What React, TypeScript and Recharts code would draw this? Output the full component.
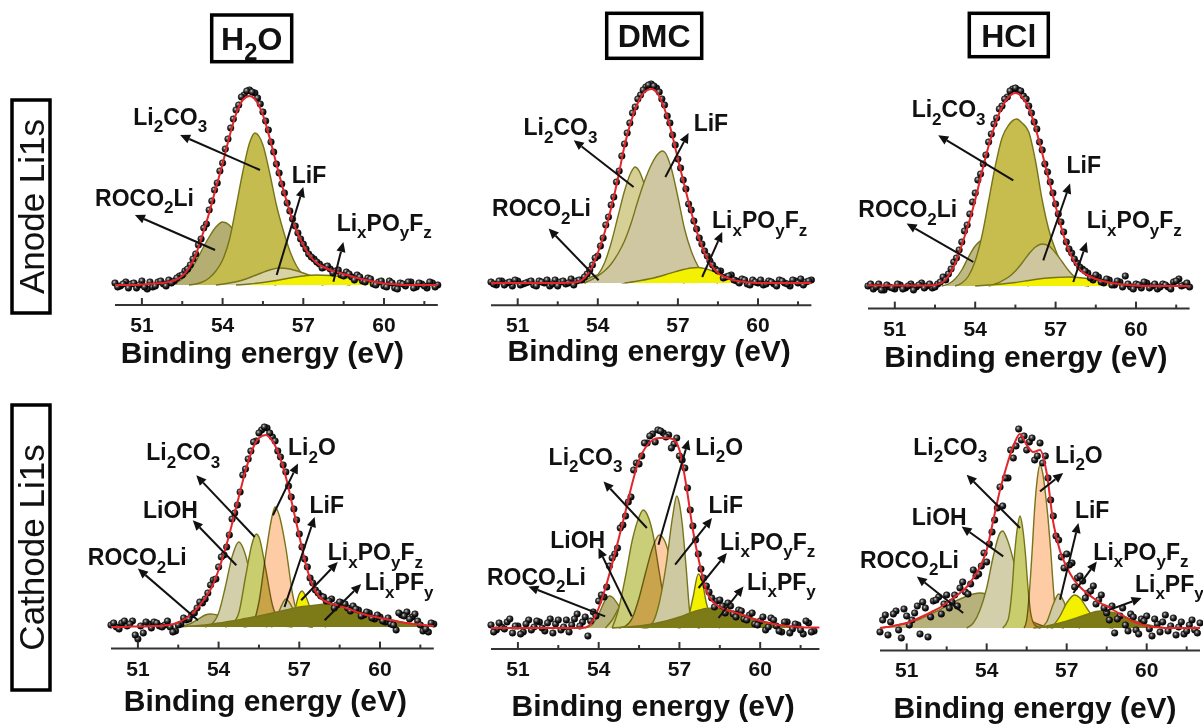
import React from 'react';
import { ComposedChart, Area, Line, Scatter, XAxis, YAxis, ReferenceLine, ReferenceDot } from 'recharts';

type Pt = [number, number];

// ---------------- shared text ----------------
const COLUMN_TITLES = ['H_2O', 'DMC', 'HCl'];
const ROW_TITLES = ['Anode Li1s', 'Cathode Li1s'];
const AXIS_TITLE = 'Binding energy (eV)';
const X_TICKS = [51, 52.5, 54, 55.5, 57, 58.5, 60, 61.5];

// ---------------- Anode / H2O ----------------
const a1Env: Pt[] = [[50,0],[50.25,0],[50.5,0],[50.75,0],[51,0.5],[51.25,1],[51.5,1.5],[51.75,2],[52,3],[52.25,5],[52.5,9],[52.75,17],[53,30],[53.25,50],[53.5,72],[53.75,97],[54,121],[54.25,148],[54.5,171],[54.75,185],[55,189],[55.25,184],[55.5,170],[55.75,147],[56,121],[56.25,96],[56.5,73],[56.75,54],[57,40],[57.25,29],[57.5,22],[57.75,18],[58,15],[58.25,13],[58.5,11],[58.75,9],[59,7],[59.25,5.5],[59.5,4],[59.75,2.5],[60,1.5],[60.25,1],[60.5,0.5],[60.75,0],[61,0],[61.5,0],[62,0]];
const a1Roco: Pt[] = [[52,0],[52.25,2],[52.5,6],[52.75,13],[53,23],[53.25,36],[53.5,48],[53.75,58],[54,63],[54.25,60],[54.5,50],[54.75,37],[55,24],[55.25,13],[55.5,6],[55.75,2],[56,0]];
const a1Li2co3: Pt[] = [[52.75,0],[53,1],[53.25,3],[53.5,7],[53.75,14],[54,25],[54.25,45],[54.5,78],[54.75,113],[55,142],[55.2,152],[55.5,140],[55.75,112],[56,80],[56.25,55],[56.5,34],[56.75,19],[57,10],[57.25,5],[57.5,2],[57.75,0]];
const a1Lif: Pt[] = [[53.75,0],[54.25,2],[54.75,5],[55.25,10],[55.75,15],[56.1,17],[56.5,16],[57,12],[57.5,7],[58,3],[58.5,1],[58.75,0]];
const a1Lipof: Pt[] = [[54.5,0],[55,1],[55.5,2.5],[56,4.5],[56.5,7],[57,9],[57.5,10],[58,9.5],[58.5,8],[59,5.5],[59.5,3],[60,1.5],[60.5,0.5],[61,0]];
const a1Dots: Pt[] = [[50,2],[50.2,-1],[50.4,3],[50.6,1],[50.8,-3],[51,4],[51.2,-4],[51.4,-2],[51.6,3],[51.8,1],[52,5],[52.2,4],[52.4,9],[52.6,14],[52.8,20],[53,31],[53.2,46],[53.4,61],[53.6,84],[53.8,102],[54,122],[54.2,146],[54.4,166],[54.6,180],[54.8,190],[55,195],[55.2,192],[55.4,181],[55.6,164],[55.8,143],[56,121],[56.2,101],[56.4,82],[56.6,66],[56.8,52],[57,41],[57.2,31],[57.4,26],[57.6,21],[57.8,18],[58,16],[58.2,14],[58.4,10],[58.6,13],[58.8,8],[59,10],[59.2,4],[59.4,7],[59.6,1],[59.8,3],[60,-1],[60.2,4],[60.4,-3],[60.6,2],[60.8,-1],[61,3],[61.2,-2],[61.4,1],[61.6,-3],[61.8,2],[62,0]];
const a1DotsB: Pt[] = [[50.1,-2],[50.3,1],[50.5,-3],[50.7,2],[50.9,0],[51.1,-2],[51.3,3],[51.5,-1],[51.7,4],[51.9,-1],[52.1,2],[52.3,7],[52.5,10],[52.7,16],[52.9,26],[53.1,40],[53.3,57],[53.5,75],[53.7,95],[53.9,114],[54.1,136],[54.3,157],[54.5,175],[54.7,188],[54.9,194],[55.1,193],[55.3,187],[55.5,173],[55.7,155],[55.9,133],[56.1,112],[56.3,92],[56.5,74],[56.7,59],[56.9,46],[57.1,36],[57.3,28],[57.5,23],[57.7,17],[57.9,19],[58.1,12],[58.3,15],[58.5,9],[58.7,11],[58.9,5],[59.1,8],[59.3,3],[59.5,6],[59.7,0],[59.9,4],[60.1,-2],[60.3,2],[60.5,-4],[60.7,1],[60.9,3],[61.1,-3],[61.3,2],[61.5,-1],[61.7,3],[61.9,-2]];

// ---------------- Anode / DMC ----------------
const a2Env: Pt[] = [[50,0],[50.5,0],[51,0],[51.5,0],[52,0],[52.5,0],[53,0.5],[53.25,1],[53.5,5],[53.75,14],[54,30],[54.25,50],[54.5,75],[54.75,104],[55,137],[55.25,162],[55.5,180],[55.75,191],[56,194],[56.25,189],[56.5,174],[56.75,152],[57,124],[57.25,97],[57.5,71],[57.75,48],[58,30],[58.25,18],[58.5,10],[58.75,6],[59,3.5],[59.25,2],[59.5,1],[59.75,0.5],[60,0],[60.5,0],[61,0],[61.5,0],[62,0]];
const a2Roco: Pt[] = [[53.25,0],[53.5,2],[53.75,6],[54,8],[54.25,7],[54.5,4],[54.75,1.5],[55,0]];
const a2Li2co3: Pt[] = [[53.5,0],[53.75,3],[54,8],[54.25,20],[54.5,40],[54.75,66],[55,92],[55.25,111],[55.4,116],[55.5,114],[55.75,98],[56,72],[56.25,45],[56.5,23],[56.75,10],[57,3],[57.25,0]];
const a2Lif: Pt[] = [[53.5,0],[53.75,3],[54,7],[54.25,12],[54.5,19],[54.75,29],[55,42],[55.25,60],[55.5,82],[55.75,102],[56,118],[56.25,129],[56.4,132],[56.5,131],[56.75,115],[57,86],[57.25,54],[57.5,32],[57.75,17],[58,8],[58.25,3],[58.5,0]];
const a2Lipof: Pt[] = [[55,0],[55.5,2],[56,4.5],[56.5,8],[57,12],[57.5,15],[57.75,15.5],[58,14.5],[58.5,10],[59,5],[59.5,1.5],[60,0]];
const a2Dots: Pt[] = [[50,1],[50.2,-2],[50.4,2],[50.6,0],[50.8,-3],[51,2],[51.2,-1],[51.4,1],[51.6,-2],[51.8,2],[52,0],[52.2,-3],[52.4,3],[52.6,1],[52.8,-1],[53,4],[53.2,2],[53.4,3],[53.6,9],[53.8,18],[54,27],[54.2,45],[54.4,66],[54.6,86],[54.8,112],[55,139],[55.2,160],[55.4,176],[55.6,188],[55.8,196],[56,199],[56.2,195],[56.4,184],[56.6,167],[56.8,148],[57,124],[57.2,103],[57.4,79],[57.6,62],[57.8,45],[58,32],[58.2,22],[58.4,14],[58.6,12],[58.8,6],[59,8],[59.2,2],[59.4,4],[59.6,-1],[59.8,3],[60,0],[60.2,-2],[60.4,2],[60.6,-1],[60.8,3],[61,0],[61.2,-3],[61.4,2],[61.6,4],[61.8,1],[62,3]];
const a2DotsB: Pt[] = [[50.1,-1],[50.3,2],[50.5,-2],[50.7,1],[50.9,3],[51.1,-2],[51.3,0],[51.5,2],[51.7,-3],[51.9,1],[52.1,3],[52.3,-1],[52.5,-3],[52.7,2],[52.9,0],[53.1,-2],[53.3,3],[53.5,6],[53.7,13],[53.9,25],[54.1,37],[54.3,58],[54.5,78],[54.7,101],[54.9,127],[55.1,150],[55.3,170],[55.5,184],[55.7,193],[55.9,198],[56.1,197],[56.3,191],[56.5,178],[56.7,160],[56.9,138],[57.1,115],[57.3,94],[57.5,73],[57.7,54],[57.9,39],[58.1,27],[58.3,18],[58.5,12],[58.7,5],[58.9,7],[59.1,3],[59.3,0],[59.5,3],[59.7,-2],[59.9,1],[60.1,3],[60.3,-1],[60.5,1],[60.7,-3],[60.9,2],[61.1,-1],[61.3,3],[61.5,0],[61.7,-2],[61.9,2]];

// ---------------- Anode / HCl ----------------
const a3Env: Pt[] = [[50,0.5],[50.5,0.5],[51,0.5],[51.5,0.5],[52,0.5],[52.25,0.5],[52.5,1],[52.75,3],[53,10],[53.25,22],[53.5,41],[53.75,62],[54,86],[54.25,114],[54.5,140],[54.75,162],[55,179],[55.25,189],[55.5,193],[55.75,189],[56,178],[56.25,158],[56.5,133],[56.75,106],[57,80],[57.25,55],[57.5,35],[57.75,22],[58,14],[58.25,10],[58.5,7],[58.75,5],[59,3.5],[59.25,2.5],[59.5,1.5],[59.75,1],[60,0.5],[60.5,0],[61,0],[61.5,0],[62,0]];
const a3Roco: Pt[] = [[52.75,0],[53,2],[53.25,7],[53.5,16],[53.75,29],[54,40],[54.3,46],[54.5,44],[54.75,36],[55,25],[55.25,15],[55.5,7],[55.75,3],[56,0]];
const a3Li2co3: Pt[] = [[53.25,0],[53.5,3],[53.75,10],[54,25],[54.25,50],[54.5,85],[54.75,120],[55,148],[55.25,161],[55.55,167],[55.75,163],[56,154],[56.25,125],[56.5,86],[56.75,56],[57,36],[57.25,21],[57.5,11],[57.75,5],[58,1],[58.25,0]];
const a3Lif: Pt[] = [[54.5,0],[54.75,2],[55,5],[55.25,9],[55.5,15],[55.75,23],[56,32],[56.25,39],[56.5,42],[56.75,40],[57,33],[57.25,24],[57.5,15],[57.75,8],[58,3],[58.25,0]];
const a3Lipof: Pt[] = [[54,0],[54.5,1],[55,2],[55.5,3.5],[56,5.5],[56.5,7.5],[57,8.5],[57.5,9],[58,8],[58.5,6],[59,3.5],[59.5,1.5],[60,0]];
const a3Dots: Pt[] = [[50,0],[50.2,-3],[50.4,2],[50.6,-4],[50.8,-1],[51,-3],[51.2,1],[51.4,-2],[51.6,2],[51.8,-1],[52,3],[52.2,0],[52.4,-2],[52.6,2],[52.8,9],[53,12],[53.2,24],[53.4,36],[53.6,55],[53.8,72],[54,93],[54.2,112],[54.4,131],[54.6,152],[54.8,168],[55,180],[55.2,189],[55.4,197],[55.6,196],[55.8,190],[56,180],[56.2,164],[56.4,144],[56.6,122],[56.8,104],[57,82],[57.2,64],[57.4,44],[57.6,33],[57.8,23],[58,17],[58.2,13],[58.4,6],[58.6,9],[58.8,3],[59,6],[59.2,1],[59.4,4],[59.6,10],[59.8,-1],[60,2],[60.2,-2],[60.4,3],[60.6,0],[60.8,-3],[61,2],[61.2,-1],[61.4,4],[61.6,7],[61.8,1],[62,-1]];
const a3DotsB: Pt[] = [[50.1,2],[50.3,-1],[50.5,-4],[50.7,1],[50.9,-2],[51.1,2],[51.3,-3],[51.5,0],[51.7,-4],[51.9,1],[52.1,-2],[52.3,2],[52.5,-1],[52.7,4],[52.9,6],[53.1,17],[53.3,28],[53.5,44],[53.7,61],[53.9,84],[54.1,106],[54.3,122],[54.5,144],[54.7,162],[54.9,177],[55.1,187],[55.3,195],[55.5,198],[55.7,195],[55.9,187],[56.1,173],[56.3,157],[56.5,136],[56.7,114],[56.9,93],[57.1,72],[57.3,54],[57.5,37],[57.7,27],[57.9,19],[58.1,15],[58.3,8],[58.5,11],[58.7,4],[58.9,7],[59.1,1],[59.3,5],[59.5,-1],[59.7,2],[59.9,-3],[60.1,1],[60.3,4],[60.5,-2],[60.7,2],[60.9,-1],[61.1,1],[61.3,-3],[61.5,5],[61.7,0],[61.9,3]];

// ---------------- Cathode / H2O ----------------
const c1Env: Pt[] = [[50,0],[50.25,0],[50.5,0],[50.75,0.5],[51,0.5],[51.25,0.5],[51.5,1],[51.75,1],[52,1.5],[52.25,2.5],[52.5,4.5],[52.75,8],[53,13],[53.25,20],[53.5,29],[53.75,40],[54,57],[54.25,78],[54.5,103],[54.75,130],[55,156],[55.25,177],[55.5,189],[55.75,192],[56,186],[56.25,172],[56.5,150],[56.75,121],[57,91],[57.25,62],[57.5,41],[57.75,30],[58,25],[58.25,23],[58.5,21],[58.75,19],[59,16.5],[59.25,14],[59.5,12],[59.75,10.5],[60,9],[60.25,7.5],[60.5,6.5],[60.75,5],[61,4],[61.25,3],[61.5,2.5],[61.75,1.5],[62,1]];
const c1Roco: Pt[] = [[52.5,0],[52.75,1.5],[53,4],[53.25,8],[53.5,12],[53.7,13],[54,11.5],[54.25,8],[54.5,4.5],[54.75,2],[55,0]];
const c1Lioh: Pt[] = [[53.5,0],[53.75,3],[54,14],[54.25,40],[54.5,70],[54.75,85],[55,72],[55.25,42],[55.5,16],[55.75,4],[56,0]];
const c1Li2co3: Pt[] = [[54.25,0],[54.5,3],[54.75,14],[55,50],[55.25,84],[55.4,93],[55.5,90],[55.75,58],[56,22],[56.25,6],[56.5,1],[56.75,0]];
const c1Li2o: Pt[] = [[55,0],[55.25,3],[55.5,25],[55.75,72],[56,112],[56.1,120],[56.25,112],[56.5,79],[56.75,33],[57,8],[57.25,1],[57.5,0]];
const c1Lif: Pt[] = [[55.75,0],[56,4],[56.25,16],[56.5,28],[56.75,19],[57,6],[57.25,1],[57.5,0]];
const c1Lipof: Pt[] = [[56.5,0],[56.75,8],[57,33],[57.1,36],[57.25,30],[57.5,12],[57.75,3],[58,0]];
const c1Lipf: Pt[] = [[52.5,0],[53,1],[53.5,2],[54,4],[54.5,6],[55,8.5],[55.5,11],[56,14],[56.5,17],[57,20],[57.5,21.5],[58,23],[58.5,21],[59,16],[59.5,12],[60,9],[60.5,6.5],[61,4],[61.5,2.5],[62,1]];
const c1Dots: Pt[] = [[50,2],[50.2,0],[50.4,4],[50.6,1],[50.8,6],[51,-12],[51.2,-6],[51.4,3],[51.6,5],[51.8,1],[52,2],[52.2,0],[52.4,-4],[52.6,3],[52.8,7],[53,12],[53.2,19],[53.4,24],[53.6,34],[53.8,47],[54,60],[54.2,72],[54.4,92],[54.6,114],[54.8,135],[55,158],[55.2,176],[55.4,186],[55.6,197],[55.8,199],[56,190],[56.2,176],[56.4,162],[56.6,141],[56.8,118],[57,93],[57.2,68],[57.4,49],[57.6,37],[57.8,31],[58,26],[58.2,28],[58.4,22],[58.6,24],[58.8,19],[59,21],[59.2,17],[59.4,12],[59.6,14],[59.8,8],[60,10],[60.2,5],[60.4,3],[60.6,-3],[60.8,12],[61,15],[61.2,10],[61.4,6],[61.6,-4],[61.8,-5],[62,3]];
const c1DotsB: Pt[] = [[50.1,4],[50.3,-2],[50.5,6],[50.7,3],[50.9,-8],[51.1,1],[51.3,5],[51.5,-1],[51.7,4],[51.9,0],[52.1,6],[52.3,-5],[52.5,2],[52.7,9],[52.9,8],[53.1,14],[53.3,25],[53.5,28],[53.7,42],[53.9,48],[54.1,70],[54.3,80],[54.5,108],[54.7,122],[54.9,152],[55.1,168],[55.3,185],[55.5,194],[55.7,200],[55.9,194],[56.1,186],[56.3,170],[56.5,155],[56.7,130],[56.9,107],[57.1,80],[57.3,60],[57.5,44],[57.7,34],[57.9,30],[58.1,26],[58.3,19],[58.5,25],[58.7,23],[58.9,16],[59.1,18],[59.3,11],[59.5,15],[59.7,9],[59.9,12],[60.1,6],[60.3,9],[60.5,2],[60.7,14],[60.9,11],[61.1,8],[61.3,13],[61.5,2],[61.7,-2],[61.9,4]];

// ---------------- Cathode / DMC ----------------
const c2Env: Pt[] = [[50,0],[50.5,0],[51,0],[51.5,0],[52,0],[52.5,0],[53,0],[53.25,0],[53.5,0.5],[53.75,6],[54,20],[54.25,40],[54.5,64],[54.75,90],[55,117],[55.25,145],[55.5,168],[55.75,181],[56,188],[56.25,190],[56.5,190],[56.75,189],[57,178],[57.25,143],[57.5,98],[57.75,64],[58,37],[58.25,26],[58.5,21],[58.75,18],[59,16],[59.25,14],[59.5,11.5],[59.75,9],[60,7],[60.25,5.5],[60.5,4],[60.75,3],[61,2],[61.25,1.5],[61.5,1],[61.75,0.5],[62,0.5],[62.2,0.5]];
const c2Roco: Pt[] = [[53.5,0],[53.75,3],[54,14],[54.25,28],[54.4,32],[54.5,31],[54.75,22],[55,11],[55.25,4],[55.5,1],[55.75,0]];
const c2Lioh: Pt[] = [[54.25,0],[54.5,8],[54.75,20],[54.9,25],[55.1,22],[55.35,12],[55.6,4],[55.85,0]];
const c2Li2co3: Pt[] = [[54.5,0],[54.75,20],[55,52],[55.25,88],[55.5,111],[55.65,118],[55.75,116],[56,96],[56.25,56],[56.5,18],[56.75,3],[57,0]];
const c2Li2o: Pt[] = [[54.75,0],[55,2],[55.25,10],[55.5,30],[55.75,56],[56,80],[56.25,93],[56.5,84],[56.75,58],[57,30],[57.25,10],[57.5,2],[57.75,0]];
const c2Lif: Pt[] = [[55.75,0],[56,5],[56.25,25],[56.5,62],[56.75,112],[56.9,132],[57,124],[57.1,105],[57.25,60],[57.4,12],[57.5,4],[57.75,0]];
const c2Lipof: Pt[] = [[57,0],[57.25,4],[57.5,30],[57.7,54],[57.85,46],[58,25],[58.25,6],[58.5,0]];
const c2Lipf: Pt[] = [[54.5,0],[55,1],[55.5,2],[56,4],[56.5,7],[57,11],[57.5,16],[58,19.5],[58.4,20],[58.75,19],[59,16.5],[59.5,12],[60,7.5],[60.5,4],[61,1.5],[61.5,0]];
const c2Dots: Pt[] = [[50,3],[50.2,-2],[50.4,1],[50.6,6],[50.8,-5],[51,2],[51.2,-4],[51.4,8],[51.6,1],[51.8,6],[52,-3],[52.2,9],[52.4,4],[52.6,-2],[52.8,8],[53,3],[53.2,14],[53.4,6],[53.6,-8],[53.8,16],[54,27],[54.2,31],[54.4,62],[54.6,74],[54.8,100],[55,112],[55.2,131],[55.4,165],[55.6,172],[55.8,185],[56,194],[56.2,198],[56.4,195],[56.6,193],[56.8,184],[57,172],[57.2,160],[57.4,118],[57.6,88],[57.8,59],[58,42],[58.2,30],[58.4,27],[58.6,22],[58.8,25],[59,14],[59.2,18],[59.4,9],[59.6,13],[59.8,4],[60,7],[60.2,-2],[60.4,10],[60.6,2],[60.8,-4],[61,6],[61.2,-1],[61.4,3],[61.6,-6],[61.8,5],[62,-3]];
const c2DotsB: Pt[] = [[50.1,-4],[50.3,5],[50.5,-1],[50.7,9],[50.9,2],[51.1,-6],[51.3,4],[51.5,-2],[51.7,7],[51.9,0],[52.1,5],[52.3,-5],[52.5,8],[52.7,1],[52.9,-4],[53.1,9],[53.3,2],[53.5,11],[53.7,7],[53.9,12],[54.1,33],[54.3,41],[54.5,70],[54.7,80],[54.9,103],[55.1,126],[55.3,158],[55.5,164],[55.7,185],[55.9,192],[56.1,186],[56.3,197],[56.5,191],[56.7,180],[56.9,190],[57.1,168],[57.3,140],[57.5,102],[57.7,74],[57.9,50],[58.1,36],[58.3,21],[58.5,28],[58.7,15],[58.9,22],[59.1,11],[59.3,17],[59.5,8],[59.7,15],[59.9,3],[60.1,11],[60.3,1],[60.5,8],[60.7,-3],[60.9,6],[61.1,-5],[61.3,4],[61.5,-2],[61.7,7],[61.9,-4]];

// ---------------- Cathode / HCl ----------------
const c3Env: Pt[] = [[50,0],[50.25,1],[50.5,2],[50.75,3.5],[51,5],[51.25,7.5],[51.5,10.5],[51.75,13.5],[52,17],[52.25,20.5],[52.5,25],[52.75,30],[53,35],[53.25,41],[53.5,50],[53.75,61],[54,78],[54.25,108],[54.5,138],[54.75,162],[55,182],[55.25,194],[55.5,183],[55.75,176],[56,178],[56.25,155],[56.5,105],[56.75,77],[57,61],[57.25,49],[57.5,41],[57.75,35],[58,30],[58.25,25],[58.5,22],[58.75,18],[59,14],[59.25,10],[59.5,6.5],[59.75,4],[60,2],[60.25,1],[60.5,0.5],[60.75,0],[61,0],[61.5,0],[62,0]];
const c3Roco: Pt[] = [[50,0],[50.5,2],[51,5],[51.5,9],[52,15],[52.5,22],[53,29],[53.5,34],[53.75,35],[54,34],[54.5,29],[55,20],[55.5,10],[56,3],[56.5,0]];
const c3Lioh: Pt[] = [[53.25,0],[53.5,5],[53.75,18],[54,40],[54.25,72],[54.5,95],[54.6,97],[54.75,90],[55,68],[55.25,38],[55.5,15],[55.75,4],[56,0]];
const c3Li2co3: Pt[] = [[54.6,0],[54.8,8],[54.95,38],[55.05,75],[55.15,100],[55.25,112],[55.35,100],[55.45,75],[55.55,40],[55.65,15],[55.8,3],[56,0]];
const c3Li2o: Pt[] = [[55.4,0],[55.5,8],[55.6,35],[55.7,75],[55.8,120],[55.9,150],[56,163],[56.1,155],[56.2,135],[56.3,110],[56.4,78],[56.5,40],[56.6,12],[56.75,1],[56.9,0]];
const c3Lif: Pt[] = [[56,0],[56.25,6],[56.5,24],[56.7,34],[56.9,26],[57.1,10],[57.25,3],[57.5,0]];
const c3Lipof: Pt[] = [[56.25,0],[56.5,3],[56.75,12],[57,25],[57.3,33],[57.5,30],[57.75,20],[58,11],[58.25,5],[58.5,1],[58.75,0]];
const c3Lipf: Pt[] = [[55.75,0],[56.25,2],[56.75,5],[57.25,9],[57.75,13.5],[58.25,17],[58.75,15.5],[59.25,10.5],[59.75,5.5],[60.25,2],[60.75,0]];
const c3Dots: Pt[] = [[50,-4],[50.2,13],[50.4,6],[50.6,17],[50.8,-10],[51,12],[51.2,8],[51.4,22],[51.6,26],[51.8,-9],[52,27],[52.2,31],[52.4,24],[52.6,20],[52.8,33],[53,40],[53.2,36],[53.4,44],[53.6,52],[53.8,62],[54,66],[54.2,96],[54.4,120],[54.6,122],[54.8,150],[55,170],[55.2,199],[55.4,192],[55.6,186],[55.8,168],[56,185],[56.2,172],[56.4,128],[56.6,92],[56.8,71],[57,74],[57.2,65],[57.4,50],[57.6,47],[57.8,35],[58,42],[58.2,28],[58.4,20],[58.6,8],[58.8,-5],[59,12],[59.2,3],[59.4,14],[59.6,-2],[59.8,9],[60,12],[60.2,-8],[60.4,4],[60.6,6],[60.8,-3],[61,10],[61.2,1],[61.4,-6],[61.6,3],[61.8,-2],[62,5]];
const c3DotsB: Pt[] = [[50.1,8],[50.3,-7],[50.5,14],[50.7,-2],[50.9,19],[51.1,3],[51.3,15],[51.5,-6],[51.7,20],[51.9,11],[52.1,28],[52.3,14],[52.5,33],[52.7,26],[52.9,22],[53.1,46],[53.3,34],[53.5,58],[53.7,54],[53.9,75],[54.1,84],[54.3,108],[54.5,141],[54.7,150],[54.9,178],[55.1,182],[55.3,188],[55.5,178],[55.7,190],[55.9,172],[56.1,165],[56.3,150],[56.5,112],[56.7,88],[56.9,60],[57.1,63],[57.3,41],[57.5,52],[57.7,30],[57.9,37],[58.1,24],[58.3,33],[58.5,15],[58.7,22],[58.9,9],[59.1,20],[59.3,-3],[59.5,11],[59.7,-6],[59.9,7],[60.1,-1],[60.3,9],[60.5,-4],[60.7,13],[60.9,2],[61.1,-7],[61.3,6],[61.5,-3],[61.7,8],[61.9,-5]];

// ---------------- styling / layout ----------------
const FONT = '"Liberation Sans", Arial, Helvetica, sans-serif';
const OUTLINE = '#77741a';
const RED = '#e2262b';

interface Series { key: string; pts: Pt[]; fill: string; blend?: boolean }
interface Note { text: string; at: Pt; from: Pt; to: Pt }
interface Layout { x50: number; ppe: number; base: number; axis: number; xMax: number; titleDx: number; titleDy: number }
interface Panel { env: Pt[]; dots: Pt[]; series: Series[]; notes: Note[]; layout: Layout }

const YEL = '#f3f000';
const PANELS: Panel[] = [
  {
    env: a1Env, dots: [...a1Dots, ...a1DotsB],
    series: [
      { key: 'roco', pts: a1Roco, fill: '#b4ae72' },
      { key: 'li2co3', pts: a1Li2co3, fill: '#c4bc4f' },
      { key: 'lif', pts: a1Lif, fill: '#d9d2a4' },
      { key: 'lipof', pts: a1Lipof, fill: YEL },
    ],
    notes: [
      { text: 'Li_2CO_3', at: [50.68, 160], from: [55.39, 115], to: [52.42, 150] },
      { text: 'LiF', at: [56.57, 102], from: [56.01, 10], to: [57.0, 98] },
      { text: 'ROCO_2Li', at: [49.26, 79], from: [53.72, 35], to: [50.74, 70] },
      { text: 'Li_xPO_yF_z', at: [58.24, 54], from: [58.12, 3.3], to: [58.49, 43] },
    ],
    layout: { x50: 115, ppe: 26.9, base: 285, axis: 305, xMax: 62, titleDx: -14, titleDy: 58 },
  },
  {
    env: a2Env, dots: [...a2Dots, ...a2DotsB],
    series: [
      { key: 'roco', pts: a2Roco, fill: '#bdb87e' },
      { key: 'li2co3', pts: a2Li2co3, fill: '#d6d096' },
      { key: 'lif', pts: a2Lif, fill: '#cfc7a1' },
      { key: 'lipof', pts: a2Lipof, fill: YEL },
    ],
    notes: [
      { text: 'Li_2CO_3', at: [51.22, 147.7], from: [55.34, 96], to: [53.1, 142.7] },
      { text: 'LiF', at: [57.59, 151.7], from: [56.53, 106], to: [57.4, 150] },
      { text: 'ROCO_2Li', at: [50.04, 66.7], from: [54.03, 2.7], to: [52.16, 54.4] },
      { text: 'Li_xPO_yF_z', at: [58.28, 54.7], from: [57.91, 6], to: [58.66, 51] },
    ],
    layout: { x50: 490.6, ppe: 26.7, base: 282.7, axis: 305, xMax: 62, titleDx: -2, titleDy: 56 },
  },
  {
    env: a3Env, dots: [...a3Dots, ...a3DotsB],
    series: [
      { key: 'roco', pts: a3Roco, fill: '#bfba84' },
      { key: 'li2co3', pts: a3Li2co3, fill: '#c6bd4e' },
      { key: 'lif', pts: a3Lif, fill: '#cec69f' },
      { key: 'lipof', pts: a3Lipof, fill: YEL },
    ],
    notes: [
      { text: 'Li_2CO_3', at: [51.63, 168.7], from: [55.42, 105.7], to: [52.62, 150.7] },
      { text: 'LiF', at: [57.41, 112.7], from: [56.54, 25.7], to: [57.54, 102.4] },
      { text: 'ROCO_2Li', at: [49.64, 68.7], from: [53.93, 24], to: [51.44, 62.4] },
      { text: 'Li_xPO_yF_z', at: [58.16, 57.7], from: [57.66, 4], to: [58.16, 44] },
    ],
    layout: { x50: 868, ppe: 26.8, base: 285.7, axis: 308.3, xMax: 62, titleDx: -3, titleDy: 58 },
  },
  {
    env: c1Env, dots: [...c1Dots, ...c1DotsB],
    series: [
      { key: 'roco', pts: c1Roco, fill: '#b9b47e' },
      { key: 'lioh', pts: c1Lioh, fill: '#d2cfaa' },
      { key: 'li2co3', pts: c1Li2co3, fill: '#cacd6e' },
      { key: 'li2o', pts: c1Li2o, fill: '#fdcba4', blend: true },
      { key: 'lif', pts: c1Lif, fill: '#d0cba6' },
      { key: 'lipof', pts: c1Lipof, fill: YEL },
      { key: 'lipf', pts: c1Lipf, fill: '#7d7b17' },
    ],
    notes: [
      { text: 'Li_2CO_3', at: [51.31, 166.7], from: [55.34, 90], to: [53.17, 151.7] },
      { text: 'Li_2O', at: [56.58, 171.7], from: [56.02, 111.7], to: [56.95, 163.4] },
      { text: 'LiOH', at: [51.19, 108.7], from: [54.66, 61.7], to: [53.04, 106.7] },
      { text: 'LiF', at: [57.38, 113.7], from: [56.45, 20], to: [57.57, 110] },
      { text: 'ROCO_2Li', at: [49.14, 61.7], from: [53.23, 6.7], to: [51.0, 58.4] },
      { text: 'Li_xPO_yF_z', at: [58.06, 66.7], from: [57.07, 26.7], to: [58.43, 65] },
      { text: 'Li_xPF_y', at: [59.43, 36.7], from: [57.94, 6.7], to: [59.3, 43] },
    ],
    layout: { x50: 111.4, ppe: 26.9, base: 626.7, axis: 648.3, xMax: 62, titleDx: -7, titleDy: 62 },
  },
  {
    env: c2Env, dots: [...c2Dots, ...c2DotsB],
    series: [
      { key: 'roco', pts: c2Roco, fill: '#b9b47e' },
      { key: 'lioh', pts: c2Lioh, fill: '#d3d08e' },
      { key: 'li2co3', pts: c2Li2co3, fill: '#cbce78' },
      { key: 'li2o', pts: c2Li2o, fill: '#fdcba4', blend: true },
      { key: 'lif', pts: c2Lif, fill: '#cfc9a2' },
      { key: 'lipof', pts: c2Lipof, fill: YEL },
      { key: 'lipf', pts: c2Lipf, fill: '#7d7b17' },
    ],
    notes: [
      { text: 'Li_2CO_3', at: [52.14, 163.3], from: [55.79, 100], to: [54.18, 146.6] },
      { text: 'Li_2O', at: [57.59, 173.3], from: [56.22, 83.3], to: [57.34, 188.3] },
      { text: 'LiF', at: [58.08, 115.3], from: [56.84, 63.3], to: [58.21, 110] },
      { text: 'LiOH', at: [52.2, 80.3], from: [55.23, 11.6], to: [53.99, 80] },
      { text: 'ROCO_2Li', at: [49.85, 43.3], from: [54.24, 11.6], to: [51.39, 41.6] },
      { text: 'Li_xPO_yF_z', at: [58.51, 78.3], from: [57.71, 40], to: [58.76, 75] },
      { text: 'Li_xPF_y', at: [59.51, 38.3], from: [58.45, 10], to: [59.38, 41.6] },
    ],
    layout: { x50: 490.8, ppe: 26.92, base: 628.3, axis: 649.3, xMax: 62.2, titleDx: -2, titleDy: 67 },
  },
  {
    env: c3Env, dots: [...c3Dots, ...c3DotsB],
    series: [
      { key: 'roco', pts: c3Roco, fill: '#b7b27c' },
      { key: 'lioh', pts: c3Lioh, fill: '#d2cfaa' },
      { key: 'li2co3', pts: c3Li2co3, fill: '#cacd6e' },
      { key: 'li2o', pts: c3Li2o, fill: '#fdcba4', blend: true },
      { key: 'lif', pts: c3Lif, fill: '#d0cba6' },
      { key: 'lipof', pts: c3Lipof, fill: YEL },
      { key: 'lipf', pts: c3Lipf, fill: '#7d7b17' },
    ],
    notes: [
      { text: 'Li_2CO_3', at: [51.25, 173.3], from: [55.25, 100], to: [53.25, 153.3] },
      { text: 'Li_2O', at: [56.56, 165.3], from: [56.0, 136.6], to: [56.87, 155] },
      { text: 'LiOH', at: [51.19, 103.3], from: [54.62, 71.6], to: [53.06, 101.6] },
      { text: 'LiF', at: [57.31, 110.3], from: [56.75, 28.3], to: [57.44, 105] },
      { text: 'ROCO_2Li', at: [49.25, 60.3], from: [53.12, 15], to: [51.38, 51.6] },
      { text: 'Li_xPO_yF_z', at: [58.0, 68.3], from: [57.25, 35], to: [58.13, 66.6] },
      { text: 'Li_xPF_y', at: [59.56, 36.3], from: [58.44, 16.6], to: [59.81, 30] },
    ],
    layout: { x50: 880, ppe: 26.67, base: 628.3, axis: 650.7, xMax: 62, titleDx: -5, titleDy: 68 },
  },
];

// ---------------- helpers ----------------
function parseRich(text: string) {
  const parts: { s: string; sub: boolean }[] = [];
  let i = 0;
  while (i < text.length) {
    if (text[i] === '_' && i + 1 < text.length) {
      parts.push({ s: text[i + 1], sub: true });
      i += 2;
    } else {
      const last = parts[parts.length - 1];
      if (last && !last.sub) last.s += text[i];
      else parts.push({ s: text[i], sub: false });
      i += 1;
    }
  }
  return parts;
}

function RichText({ x, y, text, size, anchor = 'start', weight = 'bold' }: { x: number; y: number; text: string; size: number; anchor?: string; weight?: string }) {
  const parts = parseRich(text);
  const off = size * 0.32;
  let prevSub = false;
  return (
    <text x={x} y={y} textAnchor={anchor as any} fontFamily={FONT} fontWeight={weight} fontSize={size} fill="#111">
      {parts.map((p, i) => {
        let dy = 0;
        if (p.sub && !prevSub) dy = off;
        if (!p.sub && prevSub) dy = -off;
        prevSub = p.sub;
        return (
          <tspan key={i} dy={dy} fontSize={p.sub ? size * 0.74 : size}>{p.s}</tspan>
        );
      })}
    </text>
  );
}

function buildTable(env: Pt[], series: Series[]) {
  const map = new Map<number, any>();
  const put = (k: string, p: Pt) => {
    const e = Math.round(p[0] * 1000) / 1000;
    if (!map.has(e)) map.set(e, { E: e });
    map.get(e)[k] = p[1];
  };
  env.forEach((p) => put('env', p));
  series.forEach((s) => s.pts.forEach((p) => put(s.key, p)));
  return Array.from(map.values()).sort((a, b) => a.E - b.E);
}

const Arrow = (props: any) => {
  const { x1, y1, x2, y2 } = props;
  if ([x1, y1, x2, y2].some((v) => typeof v !== 'number' || isNaN(v))) return null;
  const dx = x2 - x1, dy = y2 - y1;
  const len = Math.sqrt(dx * dx + dy * dy) || 1;
  const ux = dx / len, uy = dy / len;
  const hl = 10, hw = 4.6;
  const bx = x2 - ux * hl, by = y2 - uy * hl;
  const pts = `${x2},${y2} ${bx - uy * hw},${by + ux * hw} ${bx + uy * hw},${by - ux * hw}`;
  return (
    <g>
      <line x1={x1} y1={y1} x2={bx} y2={by} stroke="#111" strokeWidth={2} />
      <polygon points={pts} fill="#111" />
    </g>
  );
};

const Ball = (props: any) => {
  const { cx, cy } = props;
  if (typeof cx !== 'number' || typeof cy !== 'number') return null;
  return <circle cx={cx} cy={cy} r={3.3} fill="url(#xpsBall)" stroke="#000" strokeWidth={0.5} />;
};

const AxisTick = (props: any) => {
  const { x, y, payload } = props;
  const v = payload.value as number;
  const major = Math.abs(v - Math.round(v / 3) * 3) < 1e-6;
  return (
    <g>
      <line x1={x} x2={x} y1={y} y2={y - (major ? 7 : 4)} stroke="#333" strokeWidth={2} />
      {major && (
        <text x={x} y={y + 27} textAnchor="middle" fontFamily={FONT} fontWeight="bold" fontSize={21} fill="#111">
          {v}
        </text>
      )}
    </g>
  );
};

const ML = 45, MR = 20, MT = 5, MB = 82, TOPV = 215;

function PanelChart({ p }: { p: Panel }) {
  const L = p.layout;
  const plotW = (L.xMax - 50) * L.ppe;
  const ymin = -(L.axis - L.base);
  const plotH = TOPV - ymin;
  const width = ML + plotW + MR;
  const height = MT + plotH + MB;
  const left = L.x50 - ML;
  const top = L.base - TOPV - MT;
  const data = buildTable(p.env, p.series);
  const dots = p.dots.map(([E, I]) => ({ E, I }));
  return (
    <div style={{ position: 'absolute', left, top, width, height }}>
      <ComposedChart width={width} height={height} data={data} margin={{ top: MT, right: MR, left: ML, bottom: 0 }}>
        <XAxis
          dataKey="E"
          type="number"
          domain={[50, L.xMax]}
          ticks={X_TICKS}
          interval={0}
          tickSize={0}
          tickMargin={0}
          tickLine={false}
          axisLine={{ stroke: '#333', strokeWidth: 2 }}
          tick={(tp: any) => <AxisTick {...tp} />}
          height={MB}
          label={(lp: any) => {
            const vb = lp.viewBox || {};
            return (
              <text x={vb.x + vb.width / 2 + L.titleDx} y={vb.y + L.titleDy} textAnchor="middle" fontFamily={FONT} fontWeight="bold" fontSize={30} fill="#111">
                {AXIS_TITLE}
              </text>
            );
          }}
        />
        <YAxis type="number" hide domain={[ymin, TOPV]} />
        {p.series.map((s) => (
          <Area
            key={s.key}
            dataKey={s.key}
            type="monotone"
            connectNulls
            baseValue={0}
            fill={s.fill}
            fillOpacity={1}
            stroke={OUTLINE}
            strokeWidth={1.4}
            dot={false}
            activeDot={false}
            className={s.blend ? 'xps-multiply' : undefined}
            isAnimationActive={false}
          />
        ))}
        <Scatter data={dots} dataKey="I" shape={Ball} isAnimationActive={false} />
        <Line dataKey="env" type="monotone" stroke={RED} strokeWidth={2} dot={false} activeDot={false} connectNulls isAnimationActive={false} zIndex={700} />
        {p.notes.map((n, i) => (
          <ReferenceLine
            key={'arr' + i}
            segment={[{ x: n.from[0], y: n.from[1] }, { x: n.to[0], y: n.to[1] }]}
            ifOverflow="visible"
            shape={Arrow}
            zIndex={900}
          />
        ))}
        {p.notes.map((n, i) => (
          <ReferenceDot
            key={'lab' + i}
            x={n.at[0]}
            y={n.at[1]}
            r={1}
            ifOverflow="visible"
            zIndex={950}
            shape={(dp: any) => <RichText x={dp.cx} y={dp.cy} text={n.text} size={23} />}
          />
        ))}
      </ComposedChart>
    </div>
  );
}

// title boxes (layout)
const TITLE_BOXES = [
  { x: 211.7, y: 15, w: 80, h: 46.7 },
  { x: 606.7, y: 13.3, w: 95, h: 45 },
  { x: 969.3, y: 13.3, w: 79, h: 43.4 },
];
const ROW_BOXES = [
  { x: 12, y: 100, w: 38, h: 213 },
  { x: 12, y: 405, w: 38, h: 285 },
];

export default function App() {
  return (
    <div style={{ position: 'absolute', left: 0, top: 0, width: 1203, height: 724, overflow: 'hidden', background: '#fff' }}>
      <style>{`.xps-multiply, .xps-multiply .recharts-area-area { mix-blend-mode: multiply; }`}</style>
      <svg width={1203} height={724} style={{ position: 'absolute', left: 0, top: 0 }}>
        <defs>
          <radialGradient id="xpsBall" cx="38%" cy="35%" r="65%">
            <stop offset="0%" stopColor="#e8e8e8" />
            <stop offset="28%" stopColor="#5a5a5a" />
            <stop offset="65%" stopColor="#1a1a1a" />
            <stop offset="100%" stopColor="#000" />
          </radialGradient>
        </defs>
        {TITLE_BOXES.map((b, i) => (
          <g key={'t' + i}>
            <rect x={b.x} y={b.y} width={b.w} height={b.h} fill="#fff" stroke="#000" strokeWidth={3.5} />
            <RichText x={b.x + b.w / 2} y={b.y + b.h / 2 + 11.5} text={COLUMN_TITLES[i]} size={32} anchor="middle" />
          </g>
        ))}
        {ROW_BOXES.map((b, i) => {
          const cx = b.x + b.w / 2;
          const cy = b.y + b.h / 2;
          return (
            <g key={'r' + i}>
              <rect x={b.x} y={b.y} width={b.w} height={b.h} fill="#fff" stroke="#000" strokeWidth={3.5} />
              <text x={cx} y={cy} transform={`rotate(-90 ${cx} ${cy})`} textAnchor="middle" dominantBaseline="central" fontFamily={FONT} fontSize={35} fill="#111">
                {ROW_TITLES[i]}
              </text>
            </g>
          );
        })}
      </svg>
      {PANELS.map((p, i) => (
        <PanelChart key={i} p={p} />
      ))}
    </div>
  );
}
